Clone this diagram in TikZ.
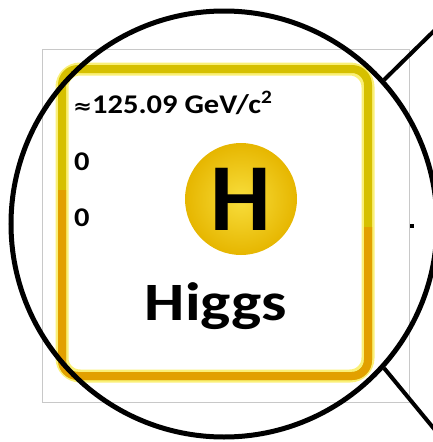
\documentclass[tikz,border=0pt]{standalone}
\usepackage{fontspec}
\setmainfont{Carlito}
\newfontfamily\symfont{DejaVu Sans}
\usetikzlibrary{positioning}
\definecolor{higgsGold}{RGB}{214,192,0}
\definecolor{higgsOrange}{RGB}{226,160,0}
\definecolor{higgsGlow}{RGB}{250,240,120}
\definecolor{ballInner}{RGB}{248,222,60}
\definecolor{ballOuter}{RGB}{230,182,0}
\definecolor{frameGray}{RGB}{200,200,200}

\begin{document}
\begin{tikzpicture}[
  x=1pt,y=-1pt,
  lens/.style={circle,draw=black,line width=5pt,minimum size=426pt,inner sep=0pt},
  card/.style={line width=8pt,rounded corners=16pt},
  glow/.style={line width=13pt,rounded corners=18pt,draw=higgsGlow},
  ball/.style={circle,minimum size=112pt,inner sep=0pt,shading=radial,inner color=ballInner,outer color=ballOuter},
  info/.style={font=\bfseries\fontsize{27}{27}\selectfont,inner sep=0pt,anchor=base west,xscale=1.13},
  callout/.style={line width=4pt,black}
]
  \useasboundingbox (0,0) rectangle (433,442);

  % photo frame and card
  \draw[frameGray,line width=0.8pt] (42,49) rectangle (409,402);
  \draw[glow] (62,69) rectangle (368,376);
  \draw[card,draw=higgsGold] (62,69) rectangle (368,376);
  \draw[card,draw=higgsOrange] (62,190) -- (62,376) -- (368,376) -- (368,227);

  % card contents
  \node[info] (mass) at (73,113) {{\symfont\fontsize{20}{20}\selectfont ≈}125.09 GeV/c\textsuperscript{2}};
  \node[info] (spin) at (74,170) {0};
  \node[info] (charge) at (74,226) {0};
  \node[ball] (ball) at (241,199) {};
  \node[font=\bfseries\fontsize{96}{96}\selectfont,inner sep=0pt] (sym) at (ball) {H};
  \node[font=\fontsize{54}{54}\selectfont\bfseries,inner sep=0pt,anchor=base,xscale=1.18] (name) at (216,320) {Higgs};

  % magnifier
  \node[lens] (lens) at (224,224) {};
  \coordinate (up) at (440,25);
  \coordinate (down) at (440,436);
  \draw[callout] (lens.42) -- (up);
  \draw[callout] (lens.-42.5) -- (down);
  \node[fill=black,minimum size=4.5pt,inner sep=0pt] (dot) at (412,226) {};
\end{tikzpicture}
\end{document}
